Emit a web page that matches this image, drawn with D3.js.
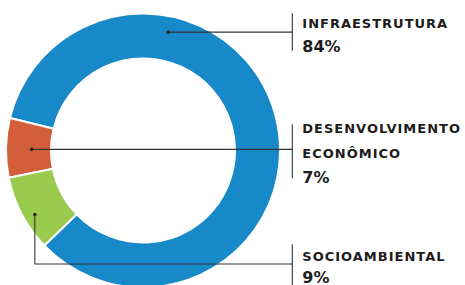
<!DOCTYPE html>
<html>
<head>
<meta charset="utf-8">
<script src="https://cdn.jsdelivr.net/npm/d3@7"></script>
<style>
  html, body { margin: 0; padding: 0; background: #fff; }
  svg { display: block; }
  text { font-family: "DejaVu Sans", "Liberation Sans", Arial, sans-serif; font-weight: bold; fill: #1c1c1c; }
</style>
</head>
<body>
<svg id="chart" width="465" height="285"></svg>
<script>
// ---- data ----
const categories = ["INFRAESTRUTURA", "DESENVOLVIMENTO ECONÔMICO", "SOCIOAMBIENTAL"];
const labelLines = [["INFRAESTRUTURA"], ["DESENVOLVIMENTO", "ECONÔMICO"], ["SOCIOAMBIENTAL"]];
const values = [84, 7, 9];
const percentLabels = ["84%", "7%", "9%"];

// ---- layout / style ----
const colors = ["#1788c8", "#d25e3a", "#9acb4e"];
const cx = 143, cy = 150.5, outerR = 137, innerR = 92;
const deg = Math.PI / 180;
// counter-clockwise pie so blue, orange, green follow the reference placement
const startA = 226.1 * deg, endA = (226.1 - 360) * deg;
// anchor dot: fraction along slice, radius
const anchors = [[0.708, 121], [0.52, 111.3], [0.59, 125.7]];
const barX = 292.3, textX = 302.3;
const blocks = [
  { bar: [13.3, 50.7], baselines: [27.7], pctBase: 51.7, elbowY: null },
  { bar: [124.3, 178.3], baselines: [133.3, 157.7], pctBase: 183.3, elbowY: null },
  { bar: [244.3, 290], baselines: [260.7], pctBase: 283.3, elbowY: 264 }
];

const svg = d3.select("#chart");
const g = svg.append("g").attr("transform", `translate(${cx},${cy})`);

const pie = d3.pie().sort(null).value(d => d).startAngle(startA).endAngle(endA);
const arcs = pie(values);
const arc = d3.arc().innerRadius(innerR).outerRadius(outerR);

g.selectAll("path.slice").data(arcs).join("path")
  .attr("class", "slice")
  .attr("d", arc)
  .attr("fill", (d, i) => colors[i])
  .attr("stroke", "#fff")
  .attr("stroke-width", 2)
  .attr("stroke-linejoin", "miter");

// leader lines and labels
arcs.forEach((a, i) => {
  const [f, r] = anchors[i];
  const ang = a.startAngle + f * (a.endAngle - a.startAngle);
  const px = cx + r * Math.sin(ang);
  const py = cy - r * Math.cos(ang);
  const b = blocks[i];
  let pts;
  if (b.elbowY !== null) {
    pts = [[px, py], [px, b.elbowY], [barX, b.elbowY]];
  } else {
    pts = [[px, py], [barX, py]];
  }
  svg.append("path")
    .attr("d", d3.line()(pts))
    .attr("fill", "none")
    .attr("stroke", "#333")
    .attr("stroke-width", 1.1);
  svg.append("circle").attr("cx", px).attr("cy", py).attr("r", 1.8).attr("fill", "#222");
  svg.append("line")
    .attr("x1", barX).attr("x2", barX)
    .attr("y1", b.bar[0]).attr("y2", b.bar[1])
    .attr("stroke", "#333").attr("stroke-width", 1.1);
  labelLines[i].forEach((t, j) => {
    svg.append("text")
      .attr("x", textX).attr("y", b.baselines[j])
      .attr("font-size", 13)
      .attr("letter-spacing", 1.0)
      .text(t);
  });
  svg.append("text")
    .attr("x", textX).attr("y", b.pctBase)
    .attr("font-size", 16)
    .attr("letter-spacing", 0)
    .text(percentLabels[i]);
});
</script>
</body>
</html>
